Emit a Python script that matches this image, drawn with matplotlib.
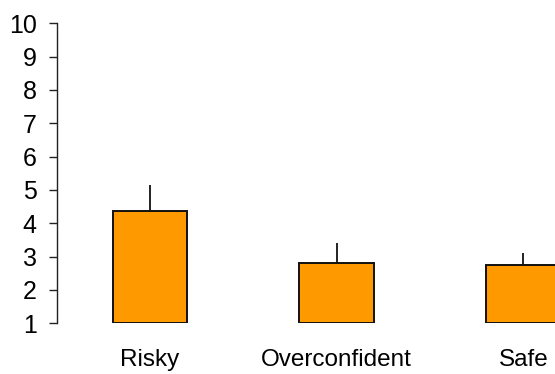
import matplotlib
matplotlib.use("Agg")
import matplotlib.pyplot as plt
import numpy as np

categories = ["Risky", "Overconfident", "Safe"]
means = [4.37, 2.80, 2.76]
errors_up = [0.78, 0.60, 0.36]
yticks = [1, 2, 3, 4, 5, 6, 7, 8, 9, 10]

plt.rcParams["font.family"] = ["Liberation Sans", "DejaVu Sans"]

fig = plt.figure(figsize=(5.55, 3.74), dpi=100)
ax = fig.add_axes([57 / 555, 0.1356, 1 - 57 / 555, 0.9377 - 0.1356])

x = np.arange(len(categories))
base = 1
heights = [m - base for m in means]
ax.bar(x, heights, bottom=base, width=0.4, color="#FF9900",
       edgecolor="#111111", linewidth=1.4, zorder=2)
ax.errorbar(x, means, yerr=[np.zeros(len(x)), errors_up], fmt="none",
            ecolor="#111111", elinewidth=1.3, capsize=0, zorder=1)

ax.set_xlim(-0.498, 2.169)
ax.set_ylim(1, 10)
ax.set_yticks(yticks)
ax.set_xticks(x)
ax.set_xticklabels(categories)

for s in ["top", "right", "bottom"]:
    ax.spines[s].set_visible(False)
ax.spines["left"].set_linewidth(1.0)
ax.spines["left"].set_color("#222222")

ax.tick_params(axis="y", direction="out", length=6, width=1.0,
               labelsize=18, pad=8.5, color="#222222")
ax.tick_params(axis="x", length=0, labelsize=17.5, pad=18.5)

fig.savefig("out.png", dpi=100)
